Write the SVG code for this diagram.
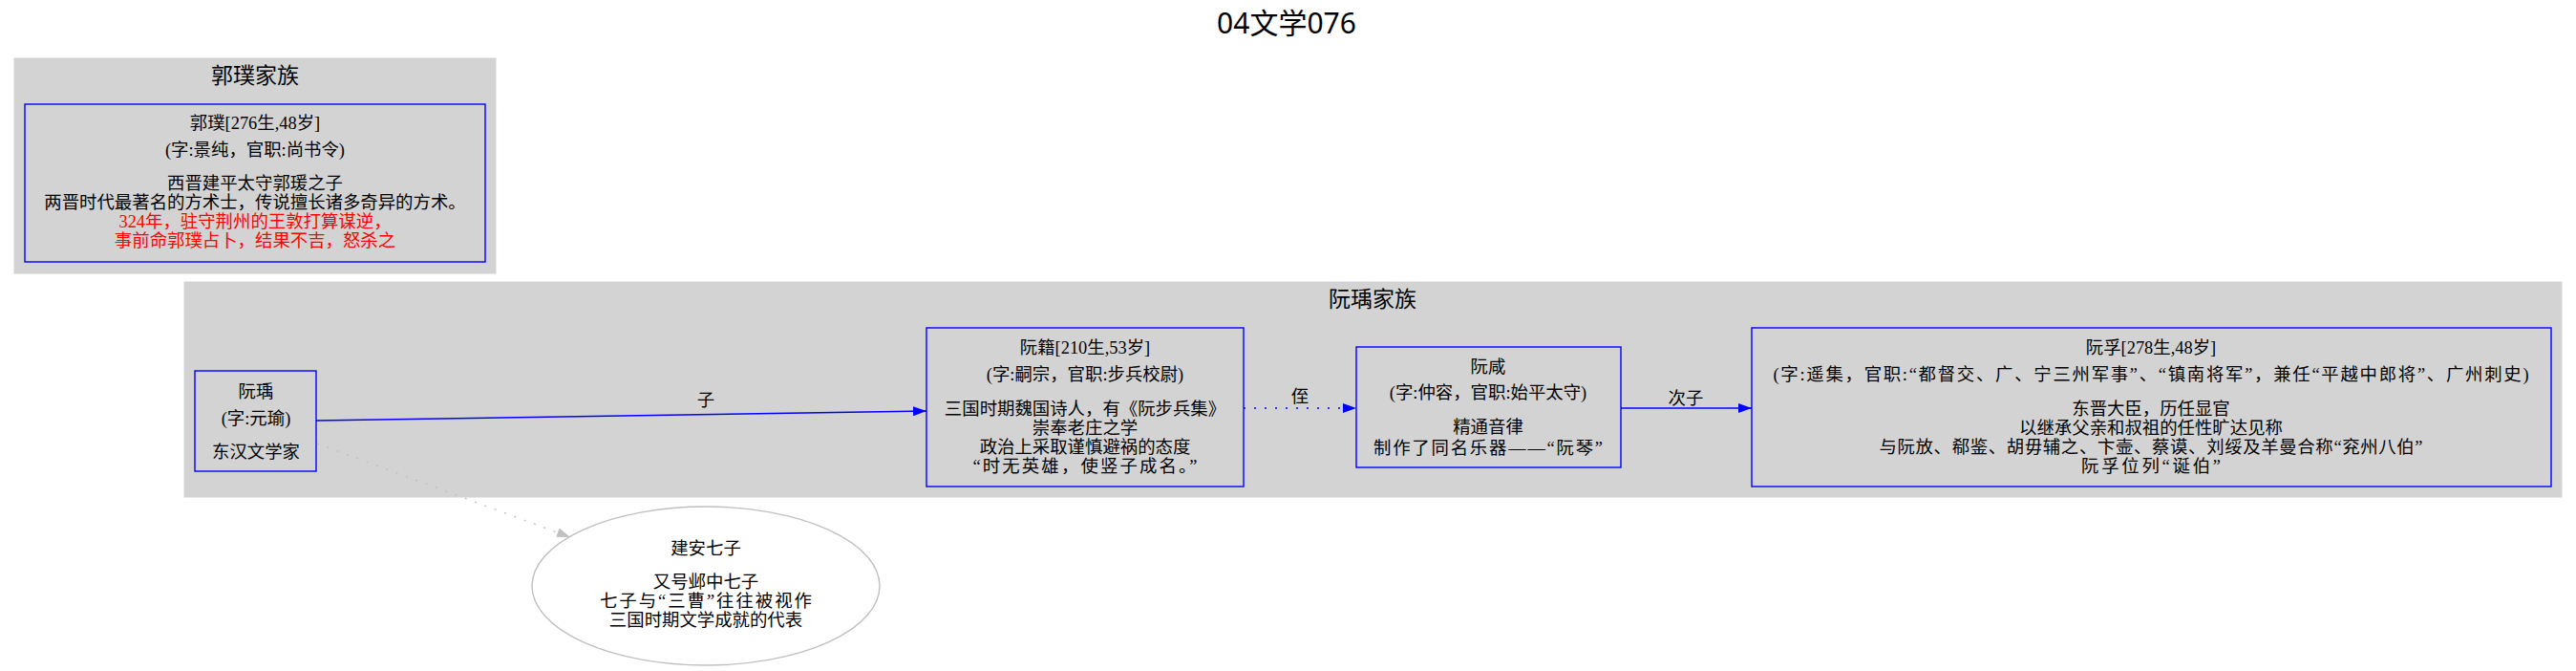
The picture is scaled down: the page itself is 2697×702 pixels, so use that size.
<svg xmlns="http://www.w3.org/2000/svg" width="2697" height="702" viewBox="0 0 2697 702">
<defs>
<style>
.cl{fill:#d3d3d3;stroke:#d3d3d3;stroke-width:1}
.nd{fill:none;stroke:#0000ff;stroke-width:1.4}
.t{font-family:"Liberation Serif","Noto Sans CJK SC",serif;font-size:18.4px;text-anchor:middle;fill:#000}
.red{fill:#ff0000}
.ct{font-family:"Noto Sans CJK SC","Noto Sans",sans-serif;font-size:23px;text-anchor:middle;fill:#000}
.ttl{font-family:"Noto Sans","Noto Sans CJK SC",sans-serif;font-size:30px;text-anchor:middle;fill:#000}
.e{stroke:#0000ff;stroke-width:1.4;fill:none}
.dot{stroke-dasharray:2,9}
.g{stroke:#c0c0c0;stroke-width:1.4;fill:none}
</style>
<marker id="ab" markerUnits="userSpaceOnUse" markerWidth="15" markerHeight="11" refX="14" refY="5" orient="auto">
<path d="M0,0 L14,5 L0,10 z" fill="#0000ff"/>
</marker>
<marker id="ag" markerUnits="userSpaceOnUse" markerWidth="15" markerHeight="11" refX="14" refY="5" orient="auto">
<path d="M0,0 L14,5 L0,10 z" fill="#c0c0c0"/>
</marker>
</defs>
<rect x="0" y="0" width="2697" height="702" fill="#ffffff"/>
<text class="ttl" x="1347" y="35">04文学076</text>

<g id="cluster_guopu">
<rect class="cl" x="15" y="61" width="504" height="225"/>
<text class="ct" x="267" y="87">郭璞家族</text>
</g>
<g id="cluster_ruanyu">
<rect class="cl" x="193" y="295" width="2489" height="225"/>
<text class="ct" x="1437" y="321">阮瑀家族</text>
</g>

<g id="node_guopu">
<rect class="nd" x="26" y="109" width="482" height="165"/>
<text class="t" x="267" y="135">郭璞[276生,48岁]</text>
<text class="t" x="267" y="163">(字:景纯，官职:尚书令)</text>
<text class="t" x="267" y="198">西晋建平太守郭瑗之子</text>
<text class="t" x="267" y="218">两晋时代最著名的方术士，传说擅长诸多奇异的方术。</text>
<text class="t red" x="267" y="238">324年，驻守荆州的王敦打算谋逆，</text>
<text class="t red" x="267" y="258">事前命郭璞占卜，结果不吉，怒杀之</text>
</g>

<g id="node_ruanyu">
<rect class="nd" x="204" y="388" width="127" height="105"/>
<text class="t" x="268" y="416">阮瑀</text>
<text class="t" x="268" y="444">(字:元瑜)</text>
<text class="t" x="268" y="479">东汉文学家</text>
</g>

<g id="node_ruanji">
<rect class="nd" x="970" y="343" width="332" height="166"/>
<text class="t" x="1136" y="370">阮籍[210生,53岁]</text>
<text class="t" x="1136" y="398">(字:嗣宗，官职:步兵校尉)</text>
<text class="t" x="1136" y="434">三国时期魏国诗人，有《阮步兵集》</text>
<text class="t" x="1136" y="454">崇奉老庄之学</text>
<text class="t" x="1136" y="474">政治上采取谨慎避祸的态度</text>
<text class="t" x="1136" y="494" textLength="235" lengthAdjust="spacing">“时无英雄，使竖子成名。”</text>
</g>

<g id="node_ruanxian">
<rect class="nd" x="1420" y="363" width="277" height="126"/>
<text class="t" x="1558" y="390">阮咸</text>
<text class="t" x="1558" y="417">(字:仲容，官职:始平太守)</text>
<text class="t" x="1558" y="453">精通音律</text>
<text class="t" x="1558" y="475" textLength="240" lengthAdjust="spacing">制作了同名乐器——“阮琴”</text>
</g>

<g id="node_ruanfu">
<rect class="nd" x="1834" y="343" width="837" height="166"/>
<text class="t" x="2252" y="370">阮孚[278生,48岁]</text>
<text class="t" x="2252" y="398" textLength="791" lengthAdjust="spacing">(字:遥集，官职:“都督交、广、宁三州军事”、“镇南将军”，兼任“平越中郎将”、广州刺史)</text>
<text class="t" x="2252" y="434">东晋大臣，历任显官</text>
<text class="t" x="2252" y="454">以继承父亲和叔祖的任性旷达见称</text>
<text class="t" x="2252" y="474" textLength="569" lengthAdjust="spacing">与阮放、郗鉴、胡毋辅之、卞壸、蔡谟、刘绥及羊曼合称“兖州八伯”</text>
<text class="t" x="2252" y="494" textLength="146" lengthAdjust="spacing">阮孚位列“诞伯”</text>
</g>

<g id="node_jianan">
<ellipse cx="739" cy="613" rx="182" ry="83" fill="none" stroke="#c0c0c0" stroke-width="1.4"/>
<text class="t" x="739" y="580">建安七子</text>
<text class="t" x="739" y="615">又号邺中七子</text>
<text class="t" x="739" y="635" textLength="222" lengthAdjust="spacing">七子与“三曹”往往被视作</text>
<text class="t" x="739" y="655">三国时期文学成就的代表</text>
</g>

<g id="edges">
<path class="e" d="M331,440 L970,430" marker-end="url(#ab)"/>
<text class="t" x="739" y="425">子</text>
<path class="e dot" d="M1302,427 L1420,427" marker-end="url(#ab)"/>
<text class="t" x="1361" y="421">侄</text>
<path class="e" d="M1697,427 L1834,427" marker-end="url(#ab)"/>
<text class="t" x="1765" y="423">次子</text>
<path class="g dot" d="M332,464 L597,562" marker-end="url(#ag)"/>
</g>
</svg>
